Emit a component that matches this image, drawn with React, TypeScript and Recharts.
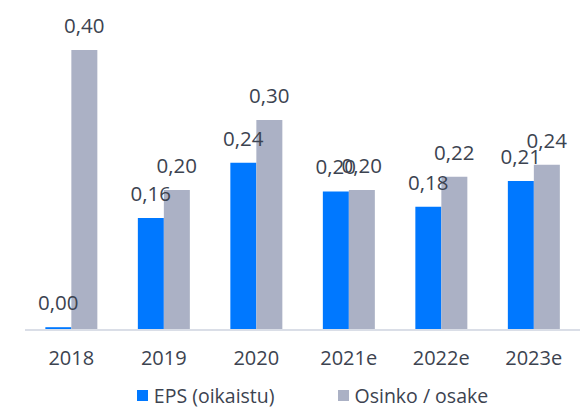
import { BarChart, Bar, XAxis, YAxis, Legend, LabelList } from 'recharts'

const years = ['2018', '2019', '2020', '2021e', '2022e', '2023e']
const eps = [0.004, 0.16, 0.239, 0.198, 0.176, 0.213]
const dividend = [0.4, 0.2, 0.3, 0.2, 0.219, 0.236]

const data = years.map((year, i) => ({ year, eps: eps[i], dividend: dividend[i] }))

const BLUE = '#0078ff'
const GREY = '#abb1c5'
const TEXT = '#3c4350'
const FONT = '"Open Sans", sans-serif'

const fmt = (v: number) => v.toFixed(2).replace('.', ',')

const LegendContent = () => (
  <div
    style={{
      height: 26,
      display: 'flex',
      justifyContent: 'center',
      alignItems: 'center',
      gap: 63,
      paddingLeft: 20,
      fontFamily: FONT,
      fontSize: 19.5,
      color: TEXT,
    }}
  >
    <div style={{ display: 'flex', alignItems: 'center', gap: 6 }}>
      <div style={{ width: 11, height: 11, background: BLUE }} />
      <span>EPS (oikaistu)</span>
    </div>
    <div style={{ display: 'flex', alignItems: 'center', gap: 6 }}>
      <div style={{ width: 11, height: 11, background: GREY }} />
      <span>Osinko / osake</span>
    </div>
  </div>
)

export default function App() {
  return (
    <div style={{ position: 'absolute', left: 0, top: 0, background: '#fff' }}>
      <BarChart
        width={587}
        height={408}
        data={data}
        margin={{ top: 50, right: 7, left: 25, bottom: 0 }}
        barCategoryGap="22%"
        barGap={0}
      >
        <YAxis hide domain={[0, 0.4]} />
        <XAxis
          dataKey="year"
          height={52}
          tickLine={false}
          tickSize={0}
          tickMargin={21}
          axisLine={{ stroke: '#dadee7', strokeWidth: 2 }}
          tick={{ fill: TEXT, fontSize: 20, fontFamily: FONT }}
          interval={0}
        />
        <Legend verticalAlign="bottom" content={<LegendContent />} />
        <Bar dataKey="eps" fill={BLUE} isAnimationActive={false}>
          <LabelList
            dataKey="eps"
            position="top"
            offset={17}
            formatter={(v: number) => fmt(v)}
            style={{ fill: TEXT, fontSize: 20.5, fontFamily: FONT }}
          />
        </Bar>
        <Bar dataKey="dividend" fill={GREY} isAnimationActive={false}>
          <LabelList
            dataKey="dividend"
            position="top"
            offset={17}
            formatter={(v: number) => fmt(v)}
            style={{ fill: TEXT, fontSize: 20.5, fontFamily: FONT }}
          />
        </Bar>
      </BarChart>
    </div>
  )
}
